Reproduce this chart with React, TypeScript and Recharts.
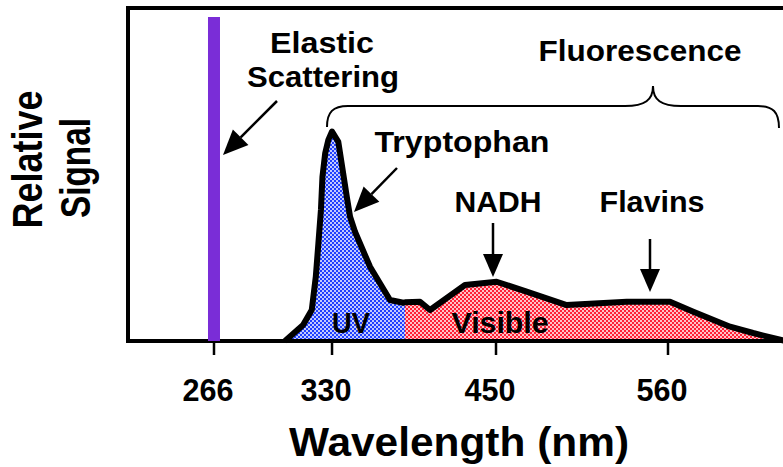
import {
  ComposedChart,
  Area,
  Line,
  XAxis,
  YAxis,
  ReferenceLine,
  ReferenceArea,
} from "recharts";

// emission spectrum (nm, relative signal 0-100)
const wavelengths = [
  304.5, 314.3, 319.0, 321.2, 322.6, 324.0, 324.8, 326.3, 328.0, 330.0,
  334.6, 340.8, 343.2, 346.8, 357.8, 372.4, 382.2, 383.4, 394.4, 401.7,
  427.3, 450.4, 469.6, 495.2, 533.6, 561.3, 576.2, 599.7, 614.4, 634.9,
];
const signal = [
  0, 4.8, 9.3, 19.3, 29.3, 39.5, 49.3, 56.4, 60.4, 62.9,
  59.8, 43.3, 37.3, 32.8, 22.3, 12.3, 11.5, 11.6, 11.8, 9.3,
  16.8, 17.8, 14.8, 10.8, 11.8, 11.8, 8.8, 4.3, 2.4, 0,
];
const uvVisibleSplit = 383.4;

const elasticWavelength = 266;
const elasticHeight = 97.3;

const tickValues = [266, 330, 450, 560];

// the printed axis is schematic: ticks are not evenly spaced in nm
const X_MIN = 219.4;
const X_MAX = 638;
const AXIS_KNOTS = [X_MIN, 266, 330, 450, 560, X_MAX];
const AXIS_STOPS = [0, 0.1299, 0.3082, 0.5559, 0.8157, 1];

const rows = wavelengths.map((wl, i) => ({
  wl,
  signal: signal[i],
  uv: wl <= uvVisibleSplit ? signal[i] : null,
  vis: wl >= uvVisibleSplit ? signal[i] : null,
}));

const FONT = '"Liberation Sans", Arial, Helvetica, sans-serif';

function piecewiseScale(knots: number[], stops: number[]): any {
  let dom: number[] = [knots[0], knots[knots.length - 1]];
  let rng: number[] = [0, 1];
  const scale: any = (v: number) => {
    let i = 0;
    while (i < knots.length - 2 && v > knots[i + 1]) i++;
    const t = (v - knots[i]) / (knots[i + 1] - knots[i]);
    const f = stops[i] + t * (stops[i + 1] - stops[i]);
    return rng[0] + f * (rng[rng.length - 1] - rng[0]);
  };
  scale.domain = (d?: number[]) => {
    if (d === undefined) return dom.slice();
    dom = d.slice();
    return scale;
  };
  scale.range = (r?: number[]) => {
    if (r === undefined) return rng.slice();
    rng = r.slice();
    return scale;
  };
  scale.copy = () => piecewiseScale(knots, stops).domain(dom).range(rng);
  scale.ticks = () => knots.slice(1, -1);
  scale.tickFormat = () => (v: number) => String(v);
  scale.nice = () => scale;
  scale.clamp = () => scale;
  return scale;
}

const xScale = piecewiseScale(AXIS_KNOTS, AXIS_STOPS);

function WavelengthTick({ x, y, payload }: any) {
  return (
    <text
      x={x - 6}
      y={y + 46}
      textAnchor="middle"
      fontFamily={FONT}
      fontWeight="bold"
      fontSize={32}
      textLength={51}
      lengthAdjust="spacingAndGlyphs"
      fill="#000"
    >
      {payload.value}
    </text>
  );
}

function Label({
  x,
  y,
  size = 30,
  len,
  children,
  rotate,
}: {
  x: number;
  y: number;
  size?: number;
  len: number;
  children: string;
  rotate?: boolean;
}) {
  return (
    <text
      transform={`translate(${x},${y})${rotate ? " rotate(-90)" : ""}`}
      textAnchor="middle"
      fontFamily={FONT}
      fontWeight="bold"
      fontSize={size}
      textLength={len}
      lengthAdjust="spacingAndGlyphs"
      fill="#000"
    >
      {children}
    </text>
  );
}

function Arrow({
  from,
  to,
  head = 23,
  half = 10,
}: {
  from: [number, number];
  to: [number, number];
  head?: number;
  half?: number;
}) {
  const [x1, y1] = from;
  const [x2, y2] = to;
  const len = Math.hypot(x2 - x1, y2 - y1);
  const ux = (x2 - x1) / len;
  const uy = (y2 - y1) / len;
  const bx = x2 - ux * head;
  const by = y2 - uy * head;
  const px = -uy * half;
  const py = ux * half;
  return (
    <g>
      <line x1={x1} y1={y1} x2={bx} y2={by} stroke="#000" strokeWidth={2.5} />
      <polygon
        points={`${x2},${y2} ${bx + px},${by + py} ${bx - px},${by - py}`}
        fill="#000"
      />
    </g>
  );
}

export default function App() {
  return (
    <div
      style={{
        position: "fixed",
        left: 0,
        top: 0,
        width: 783,
        height: 467,
        overflow: "hidden",
        background: "#fff",
      }}
    >
      <svg width={0} height={0} style={{ position: "absolute" }}>
        <defs>
          <pattern id="uvCheck" width="4" height="4" patternUnits="userSpaceOnUse">
            <rect width="4" height="4" fill="#2040ff" />
            <rect x="0.15" y="0.15" width="1.7" height="1.7" fill="#fff" />
            <rect x="2.15" y="2.15" width="1.7" height="1.7" fill="#fff" />
          </pattern>
          <pattern id="visCheck" width="4" height="4" patternUnits="userSpaceOnUse">
            <rect width="4" height="4" fill="#ff2035" />
            <rect x="0.15" y="0.15" width="1.7" height="1.7" fill="#fff" />
            <rect x="2.15" y="2.15" width="1.7" height="1.7" fill="#fff" />
          </pattern>
        </defs>
      </svg>

      <ComposedChart
        width={800}
        height={467}
        data={rows}
        margin={{ top: 8, right: 10, bottom: 0, left: 128 }}
      >
        <XAxis
          dataKey="wl"
          type="number"
          scale={xScale}
          domain={[X_MIN, X_MAX]}
          allowDataOverflow
          ticks={tickValues}
          tick={<WavelengthTick />}
          tickLine={{ stroke: "#000", strokeWidth: 2.5 }}
          tickSize={14}
          tickMargin={0}
          axisLine={false}
          height={126}
        />
        <YAxis type="number" domain={[0, 100]} hide width={0} />
        <ReferenceLine
          segment={[
            { x: elasticWavelength, y: 0 },
            { x: elasticWavelength, y: elasticHeight },
          ]}
          stroke="#7a2dd7"
          strokeWidth={12}
        />
        <Area
          type="linear"
          dataKey="uv"
          fill="url(#uvCheck)"
          fillOpacity={1}
          stroke="none"
          isAnimationActive={false}
        />
        <Area
          type="linear"
          dataKey="vis"
          fill="url(#visCheck)"
          fillOpacity={1}
          stroke="none"
          isAnimationActive={false}
        />
        <Line
          type="linear"
          dataKey="signal"
          stroke="#000"
          strokeWidth={6}
          strokeLinejoin="round"
          dot={false}
          isAnimationActive={false}
        />
        <ReferenceArea
          x1={X_MIN}
          x2={X_MAX}
          y1={0}
          y2={100}
          fill="none"
          fillOpacity={0}
          stroke="#000"
          strokeWidth={4}
        />
      </ComposedChart>

      <svg
        width={783}
        height={467}
        style={{ position: "absolute", left: 0, top: 0, pointerEvents: "none" }}
      >
        <Label x={42} y={159.5} size={42} len={138} rotate>
          Relative
        </Label>
        <Label x={90} y={168} size={42} len={100} rotate>
          Signal
        </Label>
        <Label x={459} y={456} size={41} len={340}>
          Wavelength (nm)
        </Label>

        <Label x={322} y={53} len={104}>Elastic</Label>
        <Label x={323} y={87} len={152}>Scattering</Label>
        <Label x={640} y={61} len={203}>Fluorescence</Label>
        <Label x={462} y={152} len={175}>Tryptophan</Label>
        <Label x={498} y={212} len={87}>NADH</Label>
        <Label x={652} y={212} len={105}>Flavins</Label>
        <Label x={351} y={333} len={38}>UV</Label>
        <Label x={500} y={333} len={97}>Visible</Label>

        <path
          d="M327 127 C327 112 333 106 348 106 L625 106 C645 106 653 100 653 86 C653 100 661 106 681 106 L758 106 C773 106 779 112 779 128"
          fill="none"
          stroke="#000"
          strokeWidth={2}
        />

        <Arrow from={[277, 101]} to={[223, 155]} head={25} half={11} />
        <Arrow from={[397, 168]} to={[354, 212]} head={25} half={11} />
        <Arrow from={[493, 223]} to={[493, 277]} />
        <Arrow from={[650, 239]} to={[650, 292]} />
      </svg>
    </div>
  );
}
